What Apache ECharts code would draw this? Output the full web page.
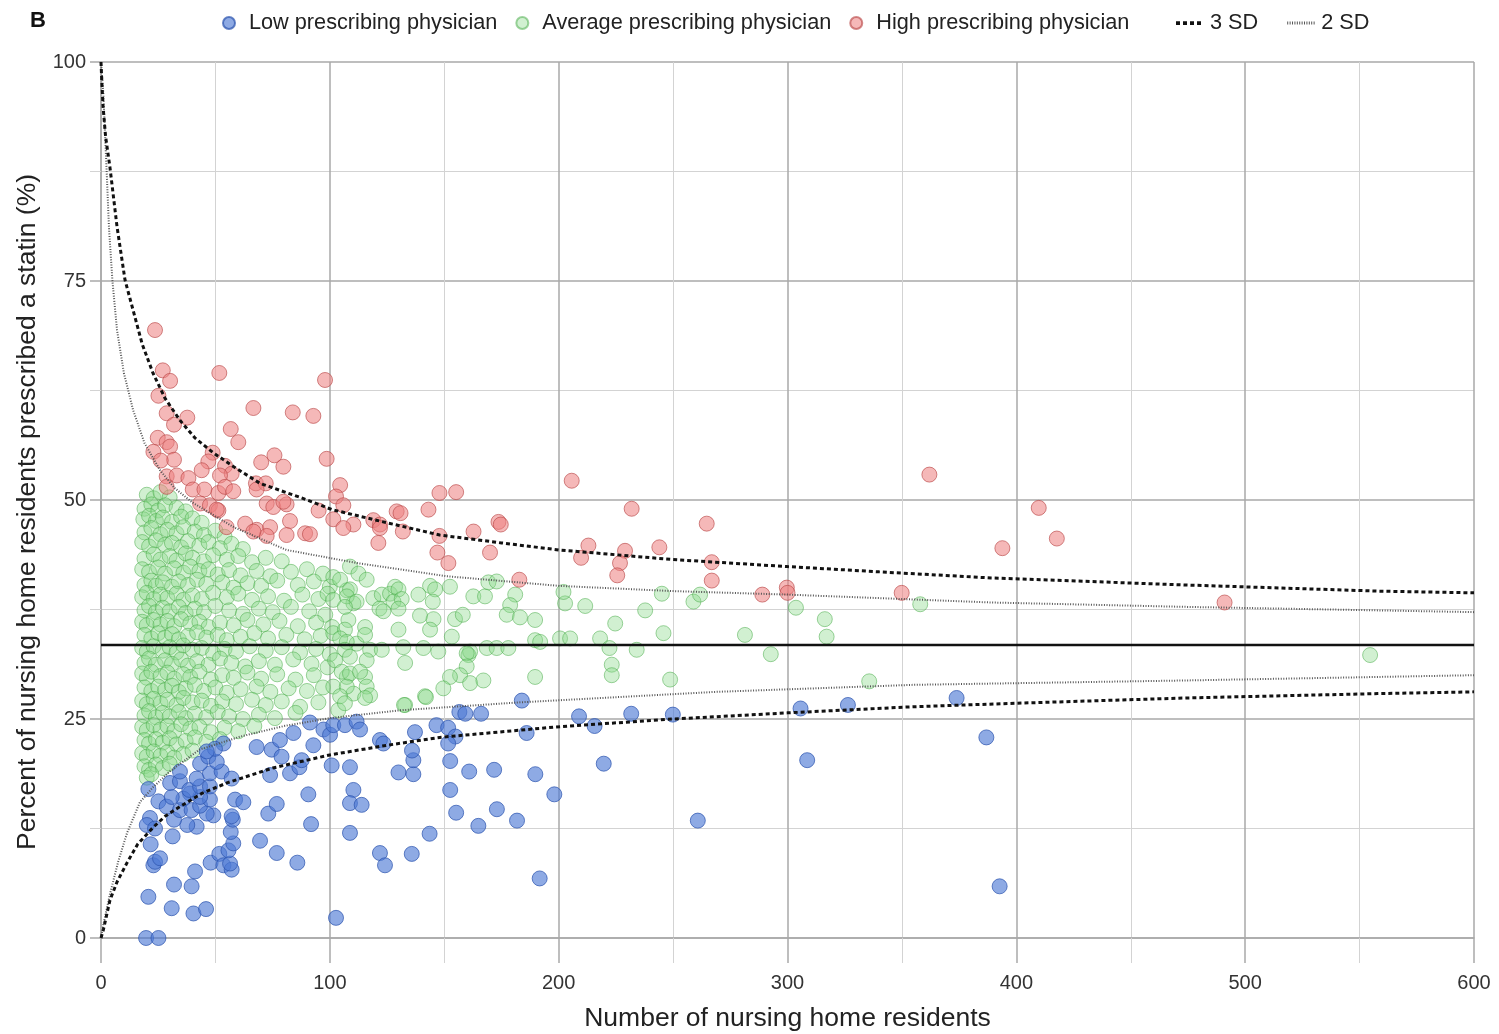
<!DOCTYPE html>
<html><head><meta charset="utf-8">
<script src="https://cdn.jsdelivr.net/npm/echarts@6/dist/echarts.min.js"></script>
<style>html,body{margin:0;padding:0;background:#fff}#c{width:1499px;height:1034px}</style>
</head><body><div id="c"></div><script>
const panelLabel = 'B';
const seriesNames = ['Low prescribing physician','Average prescribing physician','High prescribing physician','3 SD','2 SD'];
const xTicks = [0,100,200,300,400,500,600];
const yTicks = [0,25,50,75,100];
const meanValue = 33.45;

const lowPoints = [[19.7,0],[25.1,0],[20.7,4.7],[30.9,3.4],[40.4,2.8],[45.9,3.3],[31.9,6.1],[39.6,5.9],[41.1,7.6],[22.9,8.3],[23.6,8.7],[25.8,9.1],[21.7,10.7],[31.3,11.6],[47.9,8.6],[51.7,9.6],[53.5,8.3],[57.1,7.8],[56.4,8.5],[55.7,10.0],[57.8,10.8],[56.7,12.1],[57.6,13.5],[57.1,13.9],[49.1,14.0],[46.2,14.2],[41.8,12.7],[37.7,12.9],[31.9,13.5],[21.4,13.7],[20,12.9],[23.6,12.5],[25.1,15.6],[28.7,15.0],[34.5,14.6],[39.6,14.6],[43.3,15.1],[47.6,15.8],[43.3,16.1],[38.9,16.5],[36,15.9],[30.9,16.1],[20.7,17.0],[30.2,17.7],[34.5,17.9],[38.6,16.9],[43.3,17.3],[47.6,17.3],[34.5,19.0],[41.8,18.2],[47.6,18.8],[52.7,19.0],[57.1,18.2],[43.3,19.9],[46.9,20.7],[50.6,20.1],[53.5,22.2],[49.8,21.6],[46.2,21.3],[58.6,15.8],[62.2,15.5],[68,21.8],[73.1,14.2],[76.8,15.3],[69.5,11.1],[76.8,9.7],[85.8,8.6],[90.6,16.4],[91.8,13.0],[74.6,21.5],[78.2,22.6],[84.1,23.4],[78.9,20.7],[73.9,18.6],[82.6,18.8],[86.7,19.5],[87.7,20.3],[92.8,22.0],[91.3,24.6],[97.2,23.8],[100.1,23.2],[101.5,24.3],[106.6,24.3],[111.7,24.7],[113.2,23.8],[100.8,19.7],[108.8,19.5],[121.9,22.6],[123.4,22.2],[130,18.9],[136.5,18.7],[136.5,20.3],[137.2,23.5],[110.3,16.9],[108.8,15.4],[113.9,15.2],[108.8,12.0],[121.9,9.7],[124.1,8.3],[135.8,9.6],[102.7,2.3],[183.9,27.1],[156.6,25.8],[159.2,25.6],[166.1,25.6],[208.9,25.3],[215.7,24.2],[231.7,25.6],[249.9,25.5],[305.7,26.2],[326.4,26.6],[373.9,27.4],[386.9,22.9],[308.6,20.3],[392.7,5.9],[260.8,13.4],[219.7,19.9],[186,23.4],[146.6,24.3],[151.7,24.0],[154.9,23.0],[151.7,22.2],[135.9,21.4],[152.6,20.2],[160.9,19.0],[171.8,19.2],[189.8,18.7],[152.6,16.9],[198.1,16.4],[155.2,14.3],[173,14.7],[164.9,12.8],[181.8,13.4],[143.6,11.9],[191.7,6.8]];

const avgPoints = [[20,50.6],[23,50.2],[26,50.9],[30,50.3],
[19,49.0],[22,49.5],[25,48.8],[28,49.4],[33,49.1],[37,48.7],
[18.5,47.8],[21,48.2],[24,47.6],[27,48.0],[31,47.5],[35,48.1],[40,47.9],[44,47.4],
[19,46.3],[22,46.8],[26,46.1],[29,46.6],[33,46.2],[36,46.9],[41,46.4],[45,46.0],[50,46.5],[54,45.8],
[18,45.2],[21,44.7],[24,45.4],[28,44.9],[31,45.1],[35,44.6],[38,45.3],[43,44.8],[47,45.2],[52,44.5],[57,45.0],[62,44.4],
[19,43.3],[23,43.8],[26,43.2],[30,43.6],[33,43.1],[37,43.9],[40,43.4],[45,43.0],[49,43.7],[55,43.2],[60,43.6],[66,42.9],[72,43.4],[79,43.0],
[18,42.1],[21,41.8],[25,42.3],[28,41.6],[32,42.2],[36,41.7],[39,42.4],[43,41.9],[47,42.1],[51,41.5],[56,42.0],[61,41.4],[68,41.9],[74,41.3],[83,41.8],[90,42.1],[97,41.6],
[19,40.3],[22,40.8],[24,40.2],[27,40.6],[31,40.1],[34,40.7],[38,40.3],[42,40.9],[46,40.4],[53,40.6],[58,40.0],[64,40.5],[70,40.2],[77,40.8],[86,40.3],[93,40.7],[100,40.1],
[18,38.9],[20,39.4],[23,38.7],[26,39.2],[29,38.8],[33,39.3],[36,38.6],[40,39.1],[44,38.7],[49,39.4],[55,38.9],[60,39.3],[66,38.6],[73,39.0],[80,38.5],[88,39.2],[95,38.7],[99,39.3],
[19,37.4],[21,37.9],[24,37.2],[27,37.7],[30,37.3],[34,37.8],[37,37.1],[41,37.6],[45,37.2],[50,37.9],[56,37.4],[62,37.0],[69,37.6],[75,37.2],[83,37.8],[91,37.3],[98,36.9],
[18,36.1],[20,35.7],[23,36.3],[26,35.8],[29,36.2],[32,35.6],[35,36.4],[39,35.9],[43,36.1],[47,35.5],[52,36.0],[58,35.7],[64,36.3],[71,35.8],[78,36.2],[86,35.6],[94,36.0],[101,35.5],
[19,34.6],[22,34.2],[25,34.8],[28,34.3],[31,34.7],[34,34.1],[38,34.5],[42,34.9],[46,34.3],[51,34.6],[55,34.0],[61,34.4],[67,34.8],[73,34.2],[81,34.6],[89,34.1],[96,34.5],
[18,33.1],[20,32.7],[23,33.3],[27,32.8],[30,33.2],[33,32.6],[36,33.4],[40,32.9],[44,33.1],[49,32.5],[54,33.0],[59,32.7],[65,33.3],[72,32.8],[79,33.2],[87,32.6],[94,33.0],[100,32.4],
[19,31.4],[21,31.9],[24,31.2],[28,31.7],[31,31.3],[35,31.8],[38,31.1],[42,31.6],[47,31.2],[52,31.9],[57,31.4],[63,31.0],[69,31.6],[76,31.2],[84,31.8],[92,31.3],[99,30.9],
[18,30.2],[20,29.7],[22,30.4],[26,29.9],[29,30.3],[32,29.6],[36,30.1],[39,29.8],[43,30.4],[48,29.5],[53,30.0],[58,29.7],[64,30.3],[70,29.6],[77,30.1],[85,29.5],[93,30.0],
[19,28.6],[22,28.2],[25,28.7],[28,28.3],[31,28.8],[34,28.1],[37,28.5],[41,28.9],[45,28.2],[50,28.6],[55,28.0],[61,28.4],[68,28.7],[74,28.1],[82,28.5],[90,28.2],[97,28.6],
[18,27.1],[20,26.7],[23,27.3],[26,26.8],[29,27.2],[33,26.6],[36,27.4],[40,26.9],[44,27.1],[48,26.5],[53,27.0],[59,26.7],[66,27.2],[72,26.6],[79,27.0],[87,26.4],[95,26.9],
[19,25.4],[21,25.9],[24,25.2],[27,25.7],[30,25.3],[34,25.8],[37,25.1],[41,25.6],[46,25.2],[51,25.8],[56,25.3],[62,25.0],[69,25.5],[76,25.1],[85,25.7],
[18,24.1],[20,23.7],[23,24.3],[26,23.8],[29,24.2],[32,23.6],[35,24.4],[39,23.9],[43,24.1],[48,23.5],[54,24.0],[60,23.6],[67,24.2],
[19,22.6],[21,22.2],[24,22.7],[27,22.3],[30,22.8],[33,22.1],[37,22.5],[41,22.9],[46,22.4],[52,22.7],
[18,21.1],[20,20.7],[23,21.3],[26,20.8],[29,21.2],[32,20.6],[36,21.0],[40,21.4],
[19,19.6],[21,19.2],[24,19.8],[27,19.4],[30,19.9],[20,18.3],[22,18.7],
[101.5,41.2],[107.4,39.7],[101.5,38.6],[110.3,38.2],[108.1,36.3],[101.5,34.8],[111.7,33.6],[102.3,31.7],[107.4,29.8],[101.5,28.7],[110.3,27.9],[103.7,26.0],
[108.8,42.4],[112.5,41.6],[116.1,40.9],[104.5,40.9],[108.8,39.8],[107.4,39.0],[111.7,38.4],[106.6,37.8],[119.0,38.8],[122.7,39.2],[126.3,39.3],[128.5,40.1],[130.0,39.8],[127.8,38.4],[131.4,38.7],[121.7,37.6],[123.4,37.3],[130.0,37.6],[138.7,39.2],[143.8,40.2],[146.0,39.8],[145.0,38.4],[152.5,40.1],[162.7,39.0],[167.8,39.0],[169.3,40.6],[172.9,40.7],[181.0,39.2],[178.8,38.0],[177.3,36.9],[183.1,36.6],[189.7,36.3],[154.7,36.4],[158.1,36.9],[145.3,36.4],[143.8,35.2],[139.4,36.8],[130.0,35.2],[115.4,35.5],[106.6,35.2],[104.5,34.2],[107.4,33.8],[115.4,34.6],[117.6,32.9],[122.7,32.9],[132.1,33.2],[140.9,33.1],[147.4,32.7],[153.3,34.4],[160.6,32.3],[161.3,32.7],[168.6,33.1],[172.9,33.1],[178.0,33.1],[189.7,34.0],[191.9,33.8],[200.6,34.2],[205.0,34.2],[202.8,38.2],[202.1,39.5],[211.6,37.9],[218.1,34.2],[222.2,33.1],[224.7,35.9],[234.1,32.9],[237.8,37.4],[245.8,34.8],[245.1,39.3],[258.9,38.4],[261.8,39.2],[223.2,31.2],[223.2,30.0],[248.7,29.5],[106.6,32.9],[108.8,32.1],[105.2,30.4],[108.8,30.2],[107.4,28.7],[104.5,27.6],[106.6,26.8],[116.1,31.7],[115.4,29.8],[113.2,30.4],[116.1,28.7],[117.6,27.7],[115.4,27.4],[132.9,31.4],[132.9,26.6],[141.6,27.6],[159.8,32.5],[159.8,31.0],[156.9,30.0],[152.5,29.8],[149.6,28.5],[161.3,29.1],[167.1,29.4],[189.7,29.8],[142,27.5],[132.4,26.6],
[281.4,34.6],[292.7,32.4],[303.7,37.7],[316.3,36.4],[317.1,34.4],[335.7,29.3],[358,38.1],[554.6,32.3]];

const highPoints = [[23.6,69.4],[27,64.8],[30.2,63.6],[51.7,64.5],[97.9,63.7],[25.1,61.9],[28.7,59.9],[37.7,59.4],[31.9,58.6],[66.6,60.5],[83.8,60.0],[92.8,59.6],[56.7,58.1],[60,56.6],[24.8,57.1],[28.7,56.6],[30.2,56.1],[22.9,55.5],[31.9,54.6],[26.1,54.5],[48.8,55.4],[46.9,54.4],[44,53.4],[54.2,53.9],[57.1,53.0],[52,52.8],[70,54.3],[75.8,55.1],[79.7,53.8],[98.6,54.7],[28.7,52.7],[33.1,52.8],[38.2,52.5],[28.7,51.5],[40.1,51.2],[45.2,51.2],[51.3,50.8],[54.2,51.5],[57.8,51.0],[67.7,51.9],[72,51.9],[68,51.2],[43.3,49.6],[47.6,49.4],[51.3,48.8],[72.4,49.6],[75.3,49.2],[81.1,49.5],[104.5,51.7],[102.7,50.4],[105.9,49.4],[95.1,48.8],[101.5,47.8],[110.3,47.2],[105.9,46.8],[119,47.7],[121.9,47.2],[129.2,48.7],[121.2,45.1],[63,47.3],[68,46.6],[73.9,46.9],[72.4,45.9],[82.6,47.6],[81.1,46.0],[89.2,46.2],[91.3,46.1],[54.9,46.9],[66.6,46.4],[79.7,49.8],[50.6,48.9],
[205.7,52.2],[147.9,50.8],[155.2,50.9],[130.9,48.5],[143.1,48.9],[121.9,46.8],[131.9,46.4],[147.9,45.9],[162.8,46.4],[173.7,47.5],[174.7,47.2],[147,44.0],[170,44.0],[151.8,42.8],[182.8,40.9],[231.9,49.0],[213,44.8],[209.8,43.4],[229,44.2],[226.8,42.8],[225.6,41.4],[244,44.6],[264.7,47.3],[266.9,42.9],[266.9,40.8],[289,39.2],[299.7,40.0],[300,39.4],
[362,52.9],[409.8,49.1],[393.9,44.5],[417.7,45.6],[349.9,39.4],[491,38.3]];

const sd3Upper = [[0,100],[0.4,97.5],[0.9,94.9],[2,91.5],[3.9,88.0],[7,81.2],[10.5,75.1],[14,71.7],[18,67.8],[22.7,64.5],[28,61.6],[34.5,59.1],[41,57.1],[49,55.4],[58,53.8],[69.5,51.9],[87,50.3],[101,48.9],[125,47.4],[148,46.0],[175,45.1],[200,44.3],[250,43.2],[300,42.4],[340,41.8],[389,41.1],[474,40.3],[558,39.6],[600,39.4]];
const sd3Lower = [[0,0],[1,0.9],[3.9,4.3],[7,6.4],[11.4,8.6],[16,10.7],[22.7,12.6],[28,13.9],[34.5,15.0],[44,16.5],[55,17.7],[75,19.4],[100,20.9],[125,22.0],[148,22.9],[199,24.1],[250,25.0],[300,25.7],[355,26.4],[400,26.8],[474,27.4],[558,27.9],[600,28.1]];
const sd2Upper = [[0,100],[1,96.5],[2.4,88.0],[3.5,81.0],[5,75.0],[7,69.4],[10,64.5],[14,60.3],[19,56.5],[25.8,53.4],[32,51.4],[40,49.7],[58,46.9],[81,44.3],[112,42.8],[151,41.3],[200,40.2],[250,39.6],[300,39.2],[340,38.8],[389,38.3],[474,37.8],[558,37.4],[600,37.2]];
const sd2Lower = [[0,0],[1,1.5],[4,5.1],[7.5,8.7],[11.4,12.0],[17,15.5],[22.7,17.2],[30,19.0],[43,21.5],[61,23.0],[80,24.2],[100,25.1],[131,26.0],[183,26.9],[269,28.1],[355,28.9],[474,29.4],[558,29.8],[600,30.0]];

const FONT = 'Liberation Sans, Arial, sans-serif';
const chart = echarts.init(document.getElementById('c'), null, {renderer:'canvas'});
const major = '#a9a9a9', minor = '#d3d3d3';
const C3 = '#111', C2 = '#555';
const curve = (name, data, style, color) => ({type:'line', name, data, symbol:'none', showSymbol:false, smooth:false, lineStyle:style, itemStyle:{color}, z:6, silent:true});
const dot3 = {color:C3, width:3, type:[4,3]};
const dot2 = {color:C2, width:2, type:[1,1.6]};
const bbox = 'M0,0h0.01v0.01h-0.01zM29.99,11.99h0.01v0.01h-0.01z';
const icon3 = 'path://' + bbox + 'M1,4.3h4v3.6h-4zM8,4.3h4v3.6h-4zM15,4.3h4v3.6h-4zM22,4.3h4v3.6h-4z';
let p2 = bbox; for (let i = 0; i < 12; i++) { p2 += 'M' + (1 + i*2.4) + ',4.5h1v3h-1z'; }
const icon2 = 'path://' + p2;
const legendText = {fontSize:21.7, color:'#222', fontFamily:FONT};

chart.setOption({
  animation:false,
  backgroundColor:'#fff',
  textStyle:{fontFamily:FONT},
  graphic:[{type:'text', left:30, top:10, style:{text:panelLabel, font:'bold 22px '+FONT, fill:'#111'}}],
  legend:[
    {left:217, top:7, itemGap:18, itemWidth:30, itemHeight:12, textStyle:legendText,
     data:[{name:seriesNames[0],icon:'circle'},{name:seriesNames[1],icon:'circle'},{name:seriesNames[2],icon:'circle'}]},
    {left:1170, top:7, itemGap:28, itemWidth:30, itemHeight:12, textStyle:legendText,
     data:[{name:seriesNames[3],icon:icon3},{name:seriesNames[4],icon:icon2}]}
  ],
  grid:{left:101, right:25, top:62, bottom:96, containLabel:false, outerBoundsMode:'none'},
  xAxis:{type:'value', min:xTicks[0], max:xTicks[xTicks.length-1], interval:100,
    name:'Number of nursing home residents', nameLocation:'middle', nameGap:67,
    nameTextStyle:{fontSize:26.5, color:'#222', fontFamily:FONT},
    axisLine:{show:true, lineStyle:{color:major, width:1.5}},
    axisTick:{show:true, length:25, lineStyle:{color:major, width:1.5}},
    minorTick:{show:true, splitNumber:2, length:25, lineStyle:{color:minor, width:1}},
    axisLabel:{fontSize:20, color:'#333', margin:35, fontFamily:FONT},
    splitLine:{show:true, lineStyle:{color:major, width:1.5}},
    minorSplitLine:{show:true, lineStyle:{color:minor, width:1}}},
  yAxis:{type:'value', min:yTicks[0], max:yTicks[yTicks.length-1], interval:25,
    name:'Percent of nursing home residents prescribed a statin (%)', nameLocation:'middle', nameGap:60, nameRotate:90,
    nameTextStyle:{fontSize:26.5, color:'#222', fontFamily:FONT, padding:[0,24,0,0]},
    axisLine:{show:true, lineStyle:{color:major, width:1.5}},
    axisTick:{show:true, length:11, lineStyle:{color:major, width:1.5}},
    minorTick:{show:true, splitNumber:2, length:11, lineStyle:{color:minor, width:1}},
    axisLabel:{fontSize:20, color:'#333', margin:15, fontFamily:FONT},
    splitLine:{show:true, lineStyle:{color:major, width:1.5}},
    minorSplitLine:{show:true, lineStyle:{color:minor, width:1}}},
  series:[
    {type:'scatter', name:seriesNames[1], data:avgPoints, symbolSize:15, z:2,
     itemStyle:{color:'rgba(140,218,140,0.5)', borderColor:'rgba(70,170,70,0.65)', borderWidth:1}},
    {type:'scatter', name:seriesNames[0], data:lowPoints, symbolSize:15, z:3,
     itemStyle:{color:'rgba(78,122,212,0.8)', borderColor:'rgba(45,85,175,0.9)', borderWidth:1}},
    {type:'scatter', name:seriesNames[2], data:highPoints, symbolSize:15, z:3,
     itemStyle:{color:'rgba(238,128,128,0.7)', borderColor:'rgba(185,70,70,0.8)', borderWidth:1}},
    curve(seriesNames[4], sd2Upper, dot2, C2),
    curve(seriesNames[4], sd2Lower, dot2, C2),
    curve(seriesNames[3], sd3Upper, dot3, C3),
    curve(seriesNames[3], sd3Lower, dot3, C3),
    {type:'line', name:'Mean', data:[[xTicks[0],meanValue],[xTicks[xTicks.length-1],meanValue]], symbol:'none', lineStyle:{color:'#111', width:2.5}, z:7, silent:true}
  ]
});
</script></body></html>
